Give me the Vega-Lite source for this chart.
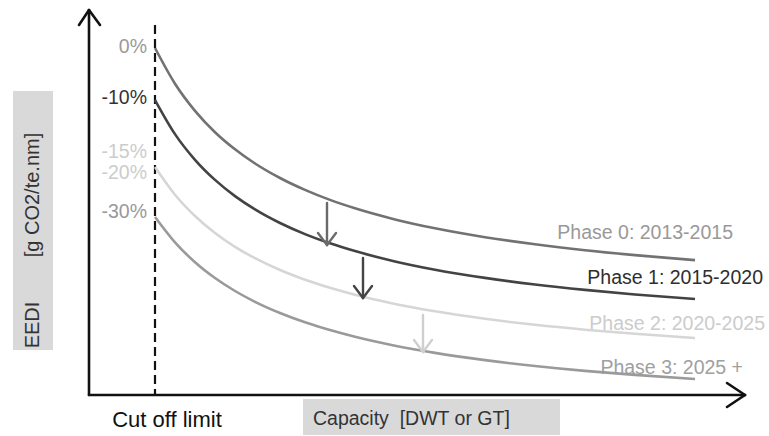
{
  "$schema": "https://vega.github.io/schema/vega-lite/v6.json",
  "width": 769,
  "height": 436,
  "autosize": {"type": "fit", "contains": "padding"},
  "padding": 0,
  "background": "white",
  "config": {"view": {"stroke": null}, "text": {"font": "Liberation Sans"}},
  "datasets": {
    "boxes": [
      {"name": "yaxis", "x": 13, "x2": 53, "y": 91, "y2": 350},
      {"name": "xaxis", "x": 303, "x2": 560, "y": 399, "y2": 435}
    ],
    "axes": [
      {"part": "y line", "x": 89, "y": 395, "x2": 89, "y2": 10},
      {"part": "y head left", "x": 79, "y": 25, "x2": 89, "y2": 10},
      {"part": "y head right", "x": 100, "y": 25, "x2": 89, "y2": 10},
      {"part": "x line", "x": 89, "y": 395, "x2": 745, "y2": 395},
      {"part": "x head top", "x": 727, "y": 383, "x2": 745, "y2": 395},
      {"part": "x head bottom", "x": 727, "y": 407, "x2": 745, "y2": 395}
    ],
    "cutoff": [{"x": 155, "y": 25, "y2": 395}],
    "curves": [
      {"phase": "Phase 0", "x": 155, "y": 48.0},
      {"phase": "Phase 0", "x": 175, "y": 83.7},
      {"phase": "Phase 0", "x": 195, "y": 110.8},
      {"phase": "Phase 0", "x": 215, "y": 132.2},
      {"phase": "Phase 0", "x": 235, "y": 149.3},
      {"phase": "Phase 0", "x": 255, "y": 163.5},
      {"phase": "Phase 0", "x": 280, "y": 178.0},
      {"phase": "Phase 0", "x": 305, "y": 189.9},
      {"phase": "Phase 0", "x": 330, "y": 199.9},
      {"phase": "Phase 0", "x": 355, "y": 208.3},
      {"phase": "Phase 0", "x": 395, "y": 219.4},
      {"phase": "Phase 0", "x": 435, "y": 228.3},
      {"phase": "Phase 0", "x": 485, "y": 237.2},
      {"phase": "Phase 0", "x": 535, "y": 244.3},
      {"phase": "Phase 0", "x": 585, "y": 250.2},
      {"phase": "Phase 0", "x": 635, "y": 255.1},
      {"phase": "Phase 0", "x": 695, "y": 260.1},
      {"phase": "Phase 1", "x": 155, "y": 100.0},
      {"phase": "Phase 1", "x": 175, "y": 134.1},
      {"phase": "Phase 1", "x": 195, "y": 159.8},
      {"phase": "Phase 1", "x": 215, "y": 179.9},
      {"phase": "Phase 1", "x": 235, "y": 196.1},
      {"phase": "Phase 1", "x": 255, "y": 209.4},
      {"phase": "Phase 1", "x": 280, "y": 223.0},
      {"phase": "Phase 1", "x": 305, "y": 234.1},
      {"phase": "Phase 1", "x": 330, "y": 243.3},
      {"phase": "Phase 1", "x": 355, "y": 251.1},
      {"phase": "Phase 1", "x": 395, "y": 261.4},
      {"phase": "Phase 1", "x": 435, "y": 269.7},
      {"phase": "Phase 1", "x": 485, "y": 277.9},
      {"phase": "Phase 1", "x": 535, "y": 284.5},
      {"phase": "Phase 1", "x": 585, "y": 289.9},
      {"phase": "Phase 1", "x": 635, "y": 294.5},
      {"phase": "Phase 1", "x": 695, "y": 299.0},
      {"phase": "Phase 2", "x": 155, "y": 167.0},
      {"phase": "Phase 2", "x": 175, "y": 194.7},
      {"phase": "Phase 2", "x": 195, "y": 216.0},
      {"phase": "Phase 2", "x": 215, "y": 233.0},
      {"phase": "Phase 2", "x": 235, "y": 246.8},
      {"phase": "Phase 2", "x": 255, "y": 258.2},
      {"phase": "Phase 2", "x": 280, "y": 270.0},
      {"phase": "Phase 2", "x": 305, "y": 279.7},
      {"phase": "Phase 2", "x": 330, "y": 287.8},
      {"phase": "Phase 2", "x": 355, "y": 294.8},
      {"phase": "Phase 2", "x": 395, "y": 303.9},
      {"phase": "Phase 2", "x": 435, "y": 311.3},
      {"phase": "Phase 2", "x": 485, "y": 318.8},
      {"phase": "Phase 2", "x": 535, "y": 324.8},
      {"phase": "Phase 2", "x": 585, "y": 329.7},
      {"phase": "Phase 2", "x": 635, "y": 333.8},
      {"phase": "Phase 2", "x": 695, "y": 338.0},
      {"phase": "Phase 3", "x": 155, "y": 217.0},
      {"phase": "Phase 3", "x": 175, "y": 242.4},
      {"phase": "Phase 3", "x": 195, "y": 262.2},
      {"phase": "Phase 3", "x": 215, "y": 278.0},
      {"phase": "Phase 3", "x": 235, "y": 291.0},
      {"phase": "Phase 3", "x": 255, "y": 301.8},
      {"phase": "Phase 3", "x": 280, "y": 313.0},
      {"phase": "Phase 3", "x": 305, "y": 322.3},
      {"phase": "Phase 3", "x": 330, "y": 330.1},
      {"phase": "Phase 3", "x": 355, "y": 336.8},
      {"phase": "Phase 3", "x": 395, "y": 345.7},
      {"phase": "Phase 3", "x": 435, "y": 352.9},
      {"phase": "Phase 3", "x": 485, "y": 360.1},
      {"phase": "Phase 3", "x": 535, "y": 366.0},
      {"phase": "Phase 3", "x": 585, "y": 370.9},
      {"phase": "Phase 3", "x": 635, "y": 374.9},
      {"phase": "Phase 3", "x": 695, "y": 379.0}
    ],
    "arrows": [
      {"step": "0 to 1", "x": 327, "y": 203, "x2": 327, "y2": 245},
      {"step": "0 to 1", "x": 318, "y": 233, "x2": 327, "y2": 245},
      {"step": "0 to 1", "x": 336, "y": 233, "x2": 327, "y2": 245},
      {"step": "1 to 2", "x": 363, "y": 258, "x2": 363, "y2": 298},
      {"step": "1 to 2", "x": 354, "y": 286, "x2": 363, "y2": 298},
      {"step": "1 to 2", "x": 372, "y": 286, "x2": 363, "y2": 298},
      {"step": "2 to 3", "x": 423, "y": 315, "x2": 423, "y2": 352},
      {"step": "2 to 3", "x": 414, "y": 340, "x2": 423, "y2": 352},
      {"step": "2 to 3", "x": 432, "y": 340, "x2": 423, "y2": 352}
    ],
    "pct": [
      {"label": "0%", "x": 147, "y": 47},
      {"label": "-10%", "x": 147, "y": 98},
      {"label": "-15%", "x": 147, "y": 152},
      {"label": "-20%", "x": 147, "y": 173},
      {"label": "-30%", "x": 147, "y": 212}
    ],
    "phases": [
      {"label": "Phase 0: 2013-2015", "x": 733, "y": 233},
      {"label": "Phase 1: 2015-2020", "x": 763, "y": 278},
      {"label": "Phase 2: 2020-2025", "x": 765, "y": 324},
      {"label": "Phase 3: 2025 +", "x": 743, "y": 368}
    ],
    "titles": [
      {"label": "Cut off limit", "x": 167, "y": 420}
    ],
    "capacity": [
      {"label": "Capacity\u00a0\u00a0[DWT or GT]", "x": 313, "y": 419}
    ],
    "ytitle": [
      {"label": "EEDI", "x": 33, "y": 325},
      {"label": "[g CO2/te.nm]", "x": 33, "y": 195}
    ]
  },
  "layer": [
    {
      "data": {"name": "boxes"},
      "mark": {"type": "rect", "color": "#d9d9d9"},
      "encoding": {
        "x": {"field": "x", "type": "quantitative", "scale": {"domain": [0, 769], "nice": false, "zero": false}, "axis": null},
        "x2": {"field": "x2"},
        "y": {"field": "y", "type": "quantitative", "scale": {"domain": [0, 436], "reverse": true, "nice": false, "zero": false}, "axis": null},
        "y2": {"field": "y2"}
      }
    },
    {
      "data": {"name": "phases"},
      "mark": {"type": "text", "align": "right", "baseline": "middle", "fontSize": 19.5},
      "encoding": {
        "x": {"field": "x", "type": "quantitative"},
        "y": {"field": "y", "type": "quantitative"},
        "text": {"field": "label"},
        "color": {"field": "label", "type": "nominal", "legend": null,
          "scale": {"domain": ["Phase 0: 2013-2015", "Phase 1: 2015-2020", "Phase 2: 2020-2025", "Phase 3: 2025 +"],
                    "range": ["#999999", "#2e2e2e", "#cccccc", "#a0a0a0"]}}
      }
    },
    {
      "data": {"name": "axes"},
      "mark": {"type": "rule", "color": "#111111", "strokeWidth": 2.6, "strokeCap": "round"},
      "encoding": {
        "x": {"field": "x", "type": "quantitative"},
        "y": {"field": "y", "type": "quantitative"},
        "x2": {"field": "x2"},
        "y2": {"field": "y2"}
      }
    },
    {
      "data": {"name": "cutoff"},
      "mark": {"type": "rule", "color": "#111111", "strokeWidth": 2.2, "strokeDash": [9, 5]},
      "encoding": {
        "x": {"field": "x", "type": "quantitative"},
        "y": {"field": "y", "type": "quantitative"},
        "y2": {"field": "y2"}
      }
    },
    {
      "data": {"name": "curves"},
      "mark": {"type": "line", "strokeWidth": 2.6, "interpolate": "monotone"},
      "encoding": {
        "x": {"field": "x", "type": "quantitative"},
        "y": {"field": "y", "type": "quantitative"},
        "color": {"field": "phase", "type": "nominal", "legend": null,
          "scale": {"domain": ["Phase 0", "Phase 1", "Phase 2", "Phase 3"],
                    "range": ["#727272", "#434343", "#d6d6d6", "#9a9a9a"]}}
      }
    },
    {
      "data": {"name": "arrows"},
      "mark": {"type": "rule", "strokeWidth": 2.4, "strokeCap": "round"},
      "encoding": {
        "x": {"field": "x", "type": "quantitative"},
        "y": {"field": "y", "type": "quantitative"},
        "x2": {"field": "x2"},
        "y2": {"field": "y2"},
        "color": {"field": "step", "type": "nominal", "legend": null,
          "scale": {"domain": ["0 to 1", "1 to 2", "2 to 3"],
                    "range": ["#6a6a6a", "#444444", "#cfcfcf"]}}
      }
    },
    {
      "data": {"name": "pct"},
      "mark": {"type": "text", "align": "right", "baseline": "middle", "fontSize": 19.5},
      "encoding": {
        "x": {"field": "x", "type": "quantitative"},
        "y": {"field": "y", "type": "quantitative"},
        "text": {"field": "label"},
        "color": {"field": "label", "type": "nominal", "legend": null,
          "scale": {"domain": ["0%", "-10%", "-15%", "-20%", "-30%"],
                    "range": ["#9a9a9a", "#333333", "#cccccc", "#cccccc", "#999999"]}}
      }
    },
    {
      "data": {"name": "titles"},
      "mark": {"type": "text", "align": "center", "baseline": "middle", "fontSize": 22, "color": "#111111"},
      "encoding": {
        "x": {"field": "x", "type": "quantitative"},
        "y": {"field": "y", "type": "quantitative"},
        "text": {"field": "label"}
      }
    },
    {
      "data": {"name": "capacity"},
      "mark": {"type": "text", "align": "left", "baseline": "middle", "fontSize": 19.5, "color": "#333333"},
      "encoding": {
        "x": {"field": "x", "type": "quantitative"},
        "y": {"field": "y", "type": "quantitative"},
        "text": {"field": "label"}
      }
    },
    {
      "data": {"name": "ytitle"},
      "mark": {"type": "text", "align": "center", "baseline": "middle", "angle": 270, "fontSize": 20, "color": "#333333"},
      "encoding": {
        "x": {"field": "x", "type": "quantitative"},
        "y": {"field": "y", "type": "quantitative"},
        "text": {"field": "label"}
      }
    }
  ],
  "resolve": {"scale": {"color": "independent"}}
}
